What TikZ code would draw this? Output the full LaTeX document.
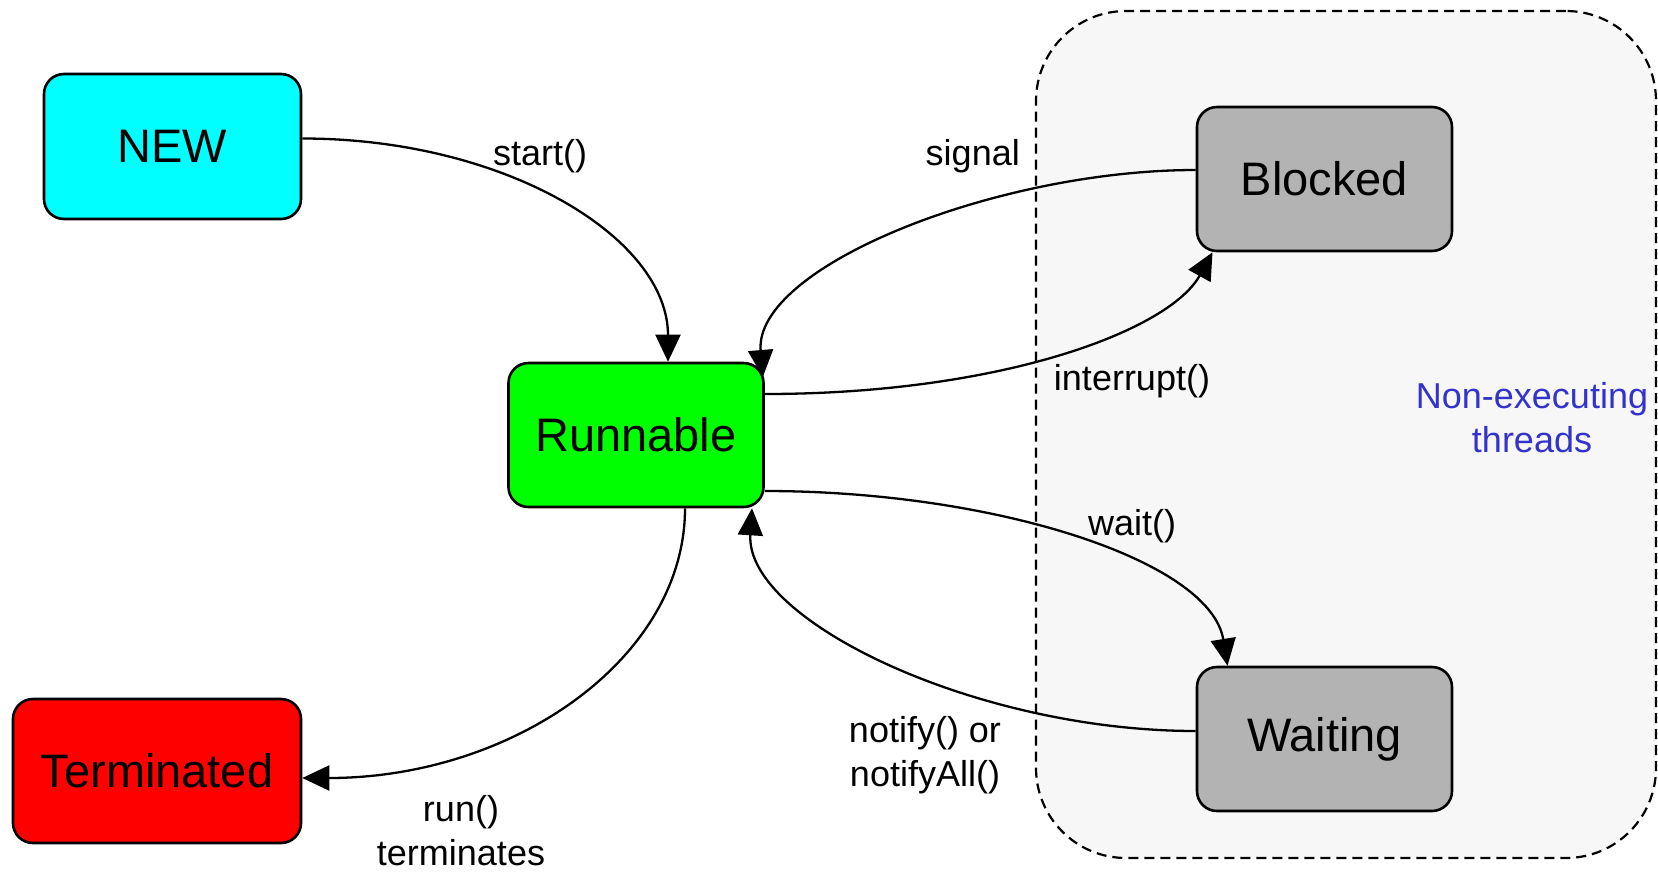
\documentclass[tikz,border=0pt]{standalone}
\usepackage{fontspec}
\setmainfont{Liberation Sans}
\usetikzlibrary{arrows.meta}
\definecolor{cyanc}{HTML}{00FFFF}
\definecolor{greenc}{HTML}{00FF00}
\definecolor{redc}{HTML}{FF0000}
\definecolor{grayc}{HTML}{B3B3B3}
\definecolor{bgc}{HTML}{F7F7F7}
\definecolor{bluec}{HTML}{3333CC}
\tikzset{
  state/.style={draw, line width=2.6pt, rounded corners=20pt, minimum width=255pt, minimum height=144pt, inner sep=0pt, font=\fontsize{47}{56}\selectfont},
  lbl/.style={font=\fontsize{36}{44}\selectfont, align=center, inner sep=0pt},
  arr/.style={line width=2.3pt, -{Triangle[length=27pt,width=25pt]}},
  group/.style={draw, dashed, dash pattern=on 10pt off 6pt, line width=2.2pt, fill=bgc, rounded corners=90pt, minimum width=620pt, minimum height=847pt, inner sep=0pt},
}
\begin{document}
\begin{tikzpicture}[x=1pt,y=-1pt]
\useasboundingbox (0,0) rectangle (1658,871);
\node[group] (grp) at (1346,434.5) {};
\node[state, fill=cyanc, minimum width=257pt, minimum height=145pt] (new) at (172.5,146.5) {NEW};
\node[state, fill=greenc] (run) at (636,435) {Runnable};
\node[state, fill=grayc] (blk) at (1324.5,179) {Blocked};
\node[state, fill=grayc] (wai) at (1324.5,739) {Waiting};
\node[state, fill=redc, minimum width=288pt] (ter) at (157,771) {Terminated};
% connectors
\draw[arr] ([yshift=8pt]new.east) .. controls +(203,0) and +(0,-124) .. ([xshift=32pt]run.north);
\draw[arr] ([yshift=41pt]run.east) .. controls +(237,0) and +(-43,78) .. ([xshift=-112pt]blk.south);
\draw[arr] ([yshift=9pt]blk.west) .. controls +(-200,0) and +(-9,-110) .. ([xshift=-2pt,yshift=58pt]run.east);
\draw[arr] ([yshift=-56pt]run.east) .. controls +(230,0) and +(-17,-105) .. ([xshift=-97pt]wai.north);
\draw[arr] ([yshift=8pt]wai.west) .. controls +(-220,0) and +(-7,112) .. ([xshift=116pt]run.south);
\draw[arr] ([xshift=49pt]run.south) .. controls +(0,150) and +(211,0) .. ([yshift=-7pt]ter.east);
% labels
\node[lbl] (lstart) at (540,156) {start()};
\node[lbl, anchor=east] (lsig) at (1020,156) {signal};
\node[lbl] (lint) at (1132,381) {interrupt()};
\node[lbl] (lwait) at (1132,526) {wait()};
\node[lbl] (lnot) at (925,755) {notify() or\\notifyAll()};
\node[lbl] (lrun) at (461,831) {run()\\terminates};
\node[lbl, text=bluec] (lgrp) at (1532,418) {Non-executing\\threads};
\end{tikzpicture}
\end{document}
